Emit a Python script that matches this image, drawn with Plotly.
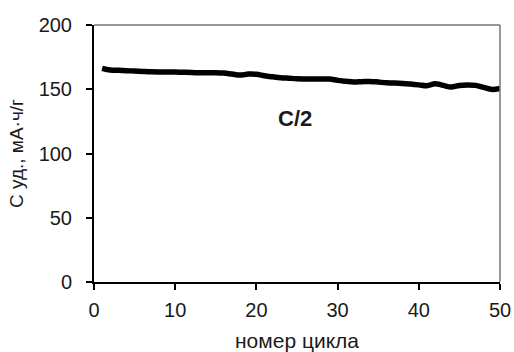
import plotly.graph_objects as go

cycles = list(range(1, 51))
capacity = [166.2, 164.9, 164.7, 164.4, 164.2, 163.9, 163.6, 163.5, 163.5, 163.4,
            163.2, 163.0, 162.9, 162.9, 162.9, 162.6, 161.8, 161.0, 161.8, 161.6,
            160.5, 159.7, 159.0, 158.6, 158.2, 158.0, 157.9, 157.9, 157.9, 156.9,
            156.2, 155.6, 155.9, 156.1, 155.6, 155.0, 154.8, 154.5, 154.0, 153.4,
            152.7, 154.3, 153.0, 151.7, 153.0, 153.4, 153.0, 151.4, 149.9, 150.6]

x_ticks = [0, 10, 20, 30, 40, 50]
y_ticks = [0, 50, 100, 150, 200]

FONT = "Liberation Sans, Arial, sans-serif"
TXT = "#1a1a1a"

fig = go.Figure()
fig.add_trace(go.Scatter(x=cycles, y=capacity, mode="lines",
                         line=dict(color="black", width=5.5), showlegend=False,
                         line_shape="spline"))

fig.add_annotation(x=24.8, y=127, text="<b>C/2</b>", showarrow=False,
                   font=dict(family=FONT, size=22, color=TXT))

# top/right grey border
fig.add_shape(type="line", xref="paper", yref="paper", x0=0, x1=1, y0=1, y1=1,
              line=dict(color="#777777", width=1.5))
fig.add_shape(type="line", xref="paper", yref="paper", x0=1, x1=1, y0=0, y1=1,
              line=dict(color="#777777", width=1.5))

fig.update_xaxes(range=[0, 50], tickvals=x_ticks, showgrid=False, zeroline=False,
                 showline=True, linecolor="black", linewidth=2, automargin=False,
                 ticks="outside", ticklen=6, tickwidth=2, tickcolor="black",
                 ticklabelstandoff=3,
                 tickfont=dict(family=FONT, size=20, color=TXT),
                 title=dict(text="номер цикла", font=dict(family=FONT, size=21, color=TXT),
                            standoff=13))
fig.update_yaxes(range=[0, 200], tickvals=y_ticks, showgrid=False, zeroline=False,
                 showline=True, linecolor="black", linewidth=2, automargin=False,
                 ticks="outside", ticklen=6, tickwidth=2, tickcolor="black",
                 ticklabelstandoff=10,
                 tickfont=dict(family=FONT, size=20, color=TXT),
                 title=dict(text="С уд., мА·ч/г", font=dict(family=FONT, size=19, color=TXT),
                            standoff=10))

fig.update_layout(width=514, height=352, margin=dict(l=94, r=14, t=25, b=70),
                  plot_bgcolor="white", paper_bgcolor="white")

fig.write_html("out.html", config={"displayModeBar": False},
               post_script="document.body.style.margin='0';"
                           "document.body.style.overflow='hidden';"
                           "document.documentElement.style.overflow='hidden';")
